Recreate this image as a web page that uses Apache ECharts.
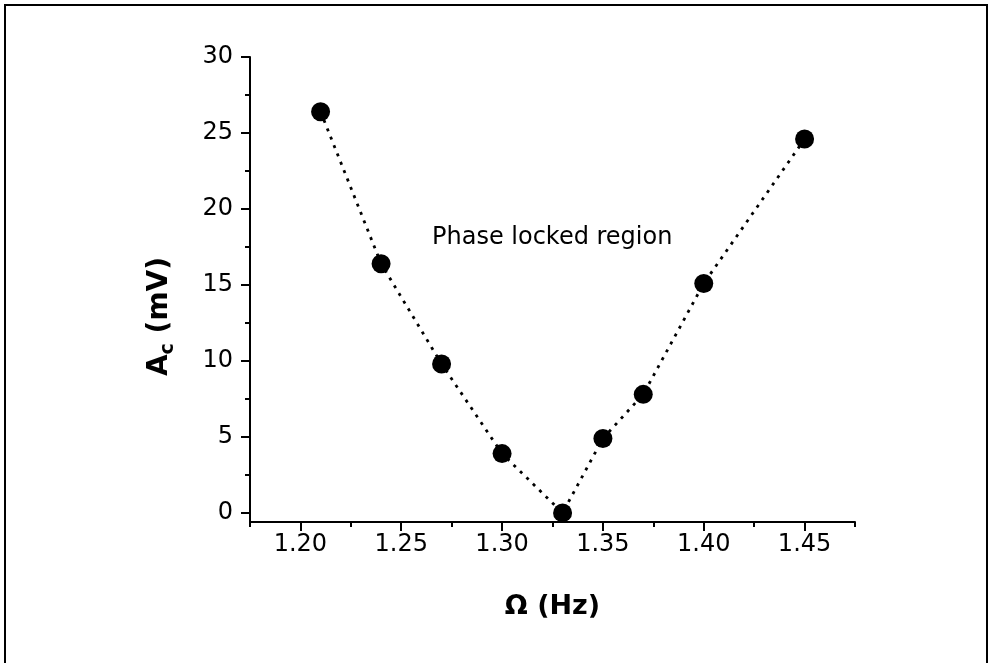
<!DOCTYPE html>
<html>
<head>
<meta charset="utf-8">
<script src="https://cdn.jsdelivr.net/npm/echarts@6/dist/echarts.min.js"></script>
<style>
  html, body { margin: 0; padding: 0; background: #fff; }
  #main { width: 994px; height: 663px; }
</style>
</head>
<body>
<div id="main"></div>
<script>
// 数据
var freq = [1.21, 1.24, 1.27, 1.30, 1.33, 1.35, 1.37, 1.40, 1.45];   // Ω (Hz)
var amp = [26.4, 16.4, 9.8, 3.9, 0, 4.9, 7.8, 15.1, 24.6];          // Ac (mV)
var xTicks = [1.20, 1.25, 1.30, 1.35, 1.40, 1.45];
var xMinorTicks = [1.175, 1.225, 1.275, 1.325, 1.375, 1.425, 1.475];
var yTicks = [0, 5, 10, 15, 20, 25, 30];
var yMinorTicks = [2.5, 7.5, 12.5, 17.5, 22.5, 27.5];

var font = 'DejaVu Sans';
var points = freq.map(function (f, i) { return [f, amp[i]]; });

var chartDom = document.getElementById('main');
var myChart = echarts.init(chartDom, null, { renderer: 'canvas' });

// 只画次刻度线的辅助坐标轴
function tickAxis(min, max, pos, values, len) {
  return {
    type: 'value',
    min: min,
    max: max,
    position: pos,
    axisLine: { show: false, onZero: false },
    axisTick: { show: true, inside: false, length: len, customValues: values, lineStyle: { color: '#000', width: 2 } },
    axisLabel: { show: false },
    splitLine: { show: false }
  };
}

var option = {
  animation: false,
  backgroundColor: '#fff',
  grid: { left: 250, right: 139, top: 57, bottom: 141 },
  xAxis: [
    {
      type: 'value',
      min: 1.175,
      max: 1.475,
      name: '\u03a9 (Hz)',
      nameLocation: 'middle',
      nameGap: 71,
      nameTextStyle: { fontFamily: font, fontSize: 27, fontWeight: 'bold', color: '#000' },
      axisLine: { show: true, onZero: false, lineStyle: { color: '#000', width: 2 } },
      axisTick: { show: true, inside: false, length: 9, customValues: xTicks, lineStyle: { color: '#000', width: 2 } },
      axisLabel: {
        customValues: xTicks, margin: 11, color: '#000', fontFamily: font, fontSize: 24,
        formatter: function (v) { return v.toFixed(2); }
      },
      splitLine: { show: false }
    },
    tickAxis(1.175, 1.475, 'bottom', xMinorTicks, 5)
  ],
  yAxis: [
    {
      type: 'value',
      min: -0.6,
      max: 30,
      name: '{a|A}{s|c}{a| (mV)}',
      nameLocation: 'middle',
      nameRotate: 90,
      nameGap: 72,
      nameTextStyle: {
        color: '#000',
        padding: [0, 54, 0, 0],
        rich: {
          a: { fontFamily: font, fontSize: 28, fontWeight: 'bold', color: '#000', lineHeight: 31 },
          s: { fontFamily: font, fontSize: 19, fontWeight: 'bold', color: '#000', lineHeight: 37, verticalAlign: 'bottom' }
        }
      },
      axisLine: { show: true, onZero: false, lineStyle: { color: '#000', width: 2 } },
      axisTick: { show: true, inside: false, length: 9, customValues: yTicks, lineStyle: { color: '#000', width: 2 } },
      axisLabel: { customValues: yTicks, margin: 17, color: '#000', fontFamily: font, fontSize: 24 },
      splitLine: { show: false }
    },
    tickAxis(-0.6, 30, 'left', yMinorTicks, 5)
  ],
  graphic: [
    {
      type: 'rect',
      shape: { x: 5, y: 5, width: 982, height: 700 },
      style: { fill: 'none', stroke: '#000', lineWidth: 2 },
      silent: true
    },
    {
      type: 'text',
      left: 432,
      top: 226,
      style: { text: 'Phase locked region', fontFamily: font, fontSize: 24, fill: '#000' },
      silent: true
    }
  ],
  series: [
    {
      type: 'line',
      xAxisIndex: 0,
      yAxisIndex: 0,
      data: points,
      symbol: 'circle',
      symbolSize: 19,
      itemStyle: { color: '#000' },
      lineStyle: { color: '#000', width: 2.8, type: [3, 6] },
      clip: false
    }
  ]
};
myChart.setOption(option);
</script>
</body>
</html>
